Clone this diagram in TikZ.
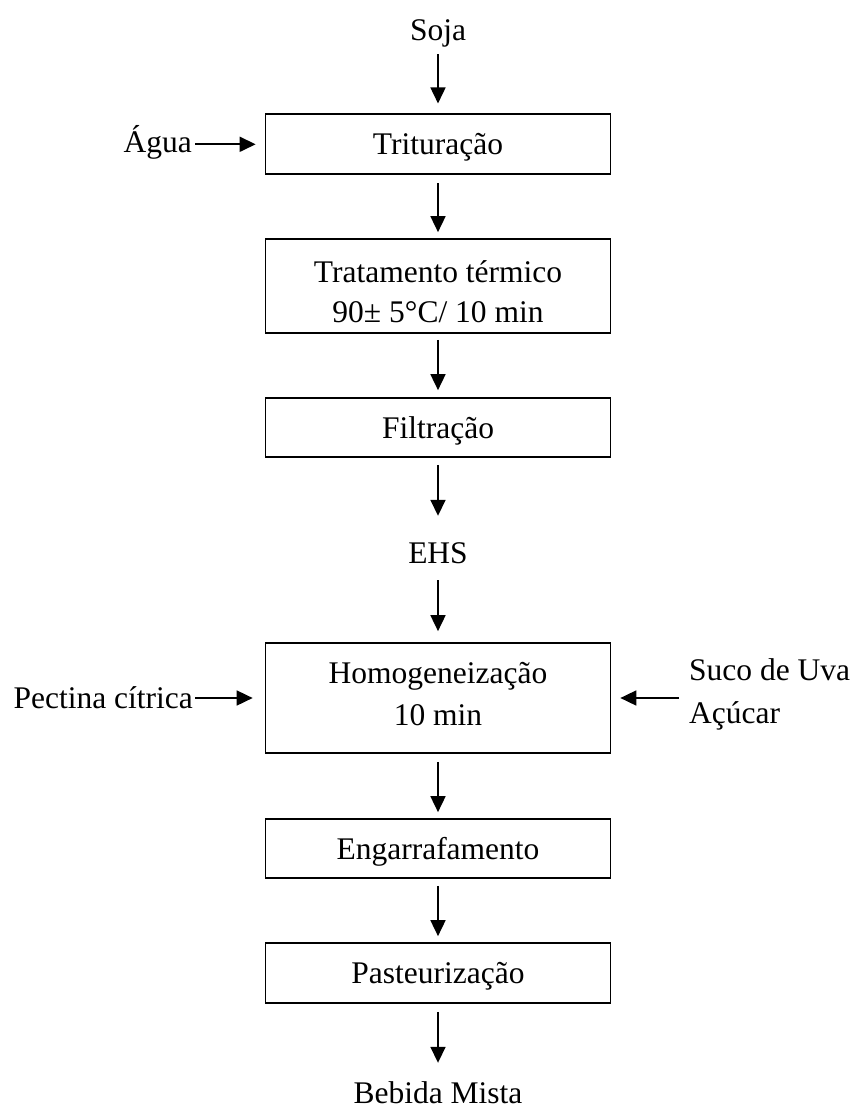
\documentclass[tikz,border=0pt]{standalone}
\usepackage{fontspec}
\setmainfont{Liberation Serif}
\usetikzlibrary{arrows.meta}
\begin{document}
\begin{tikzpicture}[x=1pt,y=-1pt,
  every node/.style={font=\fontsize{31.5}{41}\selectfont},
  procbox/.style={draw,line width=1.7pt,minimum width=345pt,inner sep=0pt,text height=21pt,text depth=0pt},
  txt/.style={inner sep=0pt,text height=21pt,text depth=7pt,anchor=base},
  flow/.style={line width=1.7pt,-{Triangle[length=16pt,width=15pt]}}
]
\useasboundingbox (0,0) rectangle (852,1110);
% process boxes
\node[procbox,minimum height=60pt] (trit) at (438,144.3) {Trituração};
\node[procbox,minimum height=94pt,align=center,text height=72pt,text depth=0pt,font=\fontsize{31.5}{40}\selectfont] (trat) at (438,286) {Tratamento térmico\\90± 5°C/ 10 min};
\node[procbox,minimum height=59pt] (filt) at (438,427.5) {Filtração};
\node[procbox,minimum height=110pt,align=center,text height=54pt,text depth=0pt,font=\fontsize{31.5}{42}\selectfont] (homog) at (438,698) {Homogeneização\\10 min};
\node[procbox,minimum height=59pt] (eng) at (438,848.5) {Engarrafamento};
\node[procbox,minimum height=60pt] (past) at (438,973) {Pasteurização};
% free texts
\node[txt] (soja) at (438,41) {Soja};
\node[txt] (ehs) at (438,563) {EHS};
\node[txt,text depth=0pt] (beb) at (438,1103) {Bebida Mista};
\node[txt,anchor=base east] (agua) at (192,153) {Água};
\node[txt,anchor=base east] (pect) at (193,708) {Pectina cítrica};
\node[txt,anchor=base west,align=left,font=\fontsize{31.5}{43}\selectfont] (suco) at (689,723) {Suco de Uva\\Açúcar};
% vertical flow
\draw[flow,shorten <=6pt,shorten >=10pt] (soja.south) -- (trit.north);
\draw[flow,shorten <=8pt,shorten >=6pt] (trit.south) -- (trat.north);
\draw[flow,shorten <=6pt,shorten >=7pt] (trat.south) -- (filt.north);
\draw[flow,shorten <=7pt,shorten >=26pt] (filt.south) -- (ehs.north);
\draw[flow,shorten <=10pt,shorten >=11pt] (ehs.south) -- (homog.north);
\draw[flow,shorten <=8pt,shorten >=6pt] (homog.south) -- (eng.north);
\draw[flow,shorten <=7pt,shorten >=6pt] (eng.south) -- (past.north);
\draw[flow,shorten <=8pt,shorten >=19pt] (past.south) -- (beb.north);
% side inputs
\draw[flow,shorten <=3pt,shorten >=9pt] (trit.west -| agua.east) -- (trit.west);
\draw[flow,shorten <=2pt,shorten >=12pt] (homog.west -| pect.east) -- (homog.west);
\draw[flow,shorten <=10pt,shorten >=9pt] (homog.east -| suco.west) -- (homog.east);
\end{tikzpicture}
\end{document}
